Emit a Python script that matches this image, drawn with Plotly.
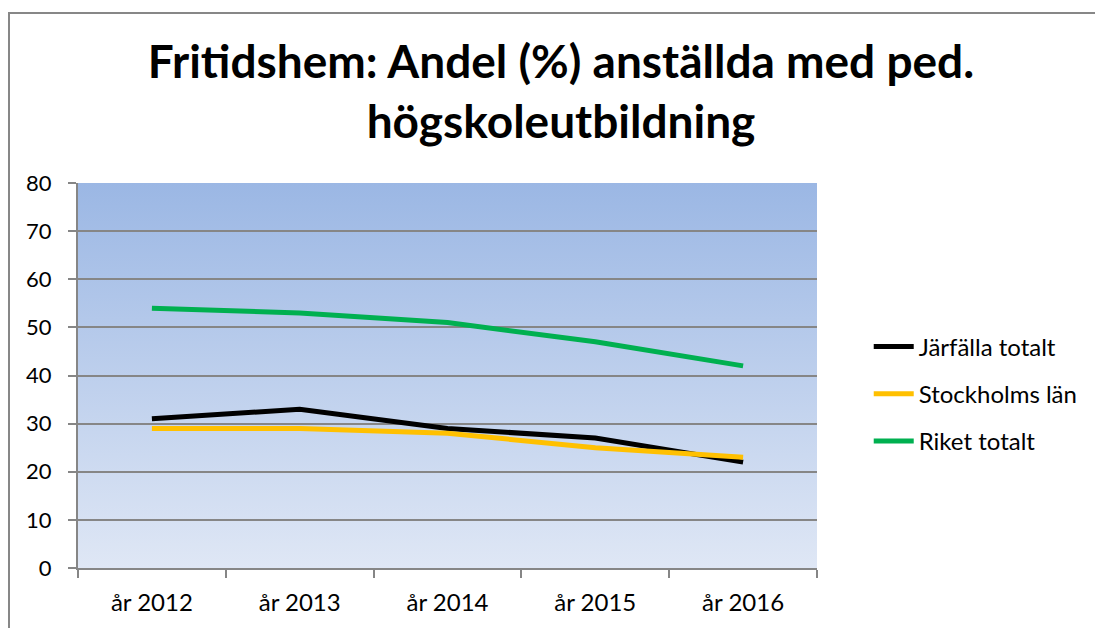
import base64
import plotly.graph_objects as go

years = ["år 2012", "år 2013", "år 2014", "år 2015", "år 2016"]
jarfalla = [31, 33, 29, 27, 22]
stockholm = [29, 29, 28, 25, 23]
riket = [54, 53, 51, 47, 42]

series = [
    ("Järfälla totalt", jarfalla, "#000000"),
    ("Stockholms län", stockholm, "#FFC000"),
    ("Riket totalt", riket, "#00B050"),
]

FONT = "Lato"

fig = go.Figure()
for name, vals, col in series:
    fig.add_trace(go.Scatter(x=years, y=vals, name=name, mode="lines", legendgroup=name,
                             line=dict(color=col, width=5)))

svg = ('<svg xmlns="http://www.w3.org/2000/svg" width="100" height="100" preserveAspectRatio="none">'
       '<defs><linearGradient id="g" x1="0" y1="0" x2="0" y2="1">'
       '<stop offset="0" stop-color="#9BB7E4"/><stop offset="1" stop-color="#DFE7F5"/>'
       '</linearGradient></defs><rect width="100" height="100" fill="url(#g)"/></svg>')
src = "data:image/svg+xml;base64," + base64.b64encode(svg.encode()).decode()

fig.update_layout(
    width=1095, height=628,
    margin=dict(l=78, r=278, t=183, b=58),
    paper_bgcolor="white",
    plot_bgcolor="rgba(0,0,0,0)",
    font=dict(family=FONT, size=22, color="black"),
    title=dict(text="<b>Fritidshem: Andel (%) anställda med ped.<br>högskoleutbildning</b>",
               x=561 / 1095, xanchor="center", xref="container",
               y=1 - 78 / 628, yanchor="middle", yref="container",
               font=dict(family=FONT, size=46, color="black")),
    showlegend=True,
    legend=dict(x=1.07, xanchor="left", y=0.452, yanchor="middle",
                font=dict(family=FONT, size=24), tracegroupgap=13,
                traceorder="grouped", bgcolor="rgba(0,0,0,0)", itemwidth=40),
    images=[dict(source=src, xref="paper", yref="paper", x=0, y=1, sizex=1, sizey=1,
                 sizing="stretch", layer="below", xanchor="left", yanchor="top")],
    shapes=[dict(type="rect", xref="paper", yref="paper",
                 x0=(9 - 78) / 739, x1=(1105 - 78) / 739,
                 y0=(570 - 640) / 387, y1=(570 - 12) / 387,
                 line=dict(color="#878787", width=2), fillcolor="rgba(0,0,0,0)", layer="below")],
)

fig.update_xaxes(type="category", showgrid=False, showline=True, linecolor="#868686", linewidth=2,
                 ticks="outside", tickson="boundaries", ticklen=8, tickcolor="#868686", tickwidth=2,
                 ticklabelstandoff=12, tickfont=dict(family=FONT, size=24), range=[-0.5, 4.5])
fig.update_yaxes(range=[0, 80], dtick=10, showgrid=True, gridcolor="#868686", gridwidth=2,
                 showline=True, linecolor="#868686", linewidth=2, ticks="outside", ticklen=8,
                 tickcolor="#868686", tickwidth=2, ticklabelstandoff=12, zeroline=False,
                 tickfont=dict(family=FONT, size=22))

fig.write_html("out.html", config={"displayModeBar": False},
               post_script="document.body.style.margin='0';document.body.style.overflow='hidden';")
